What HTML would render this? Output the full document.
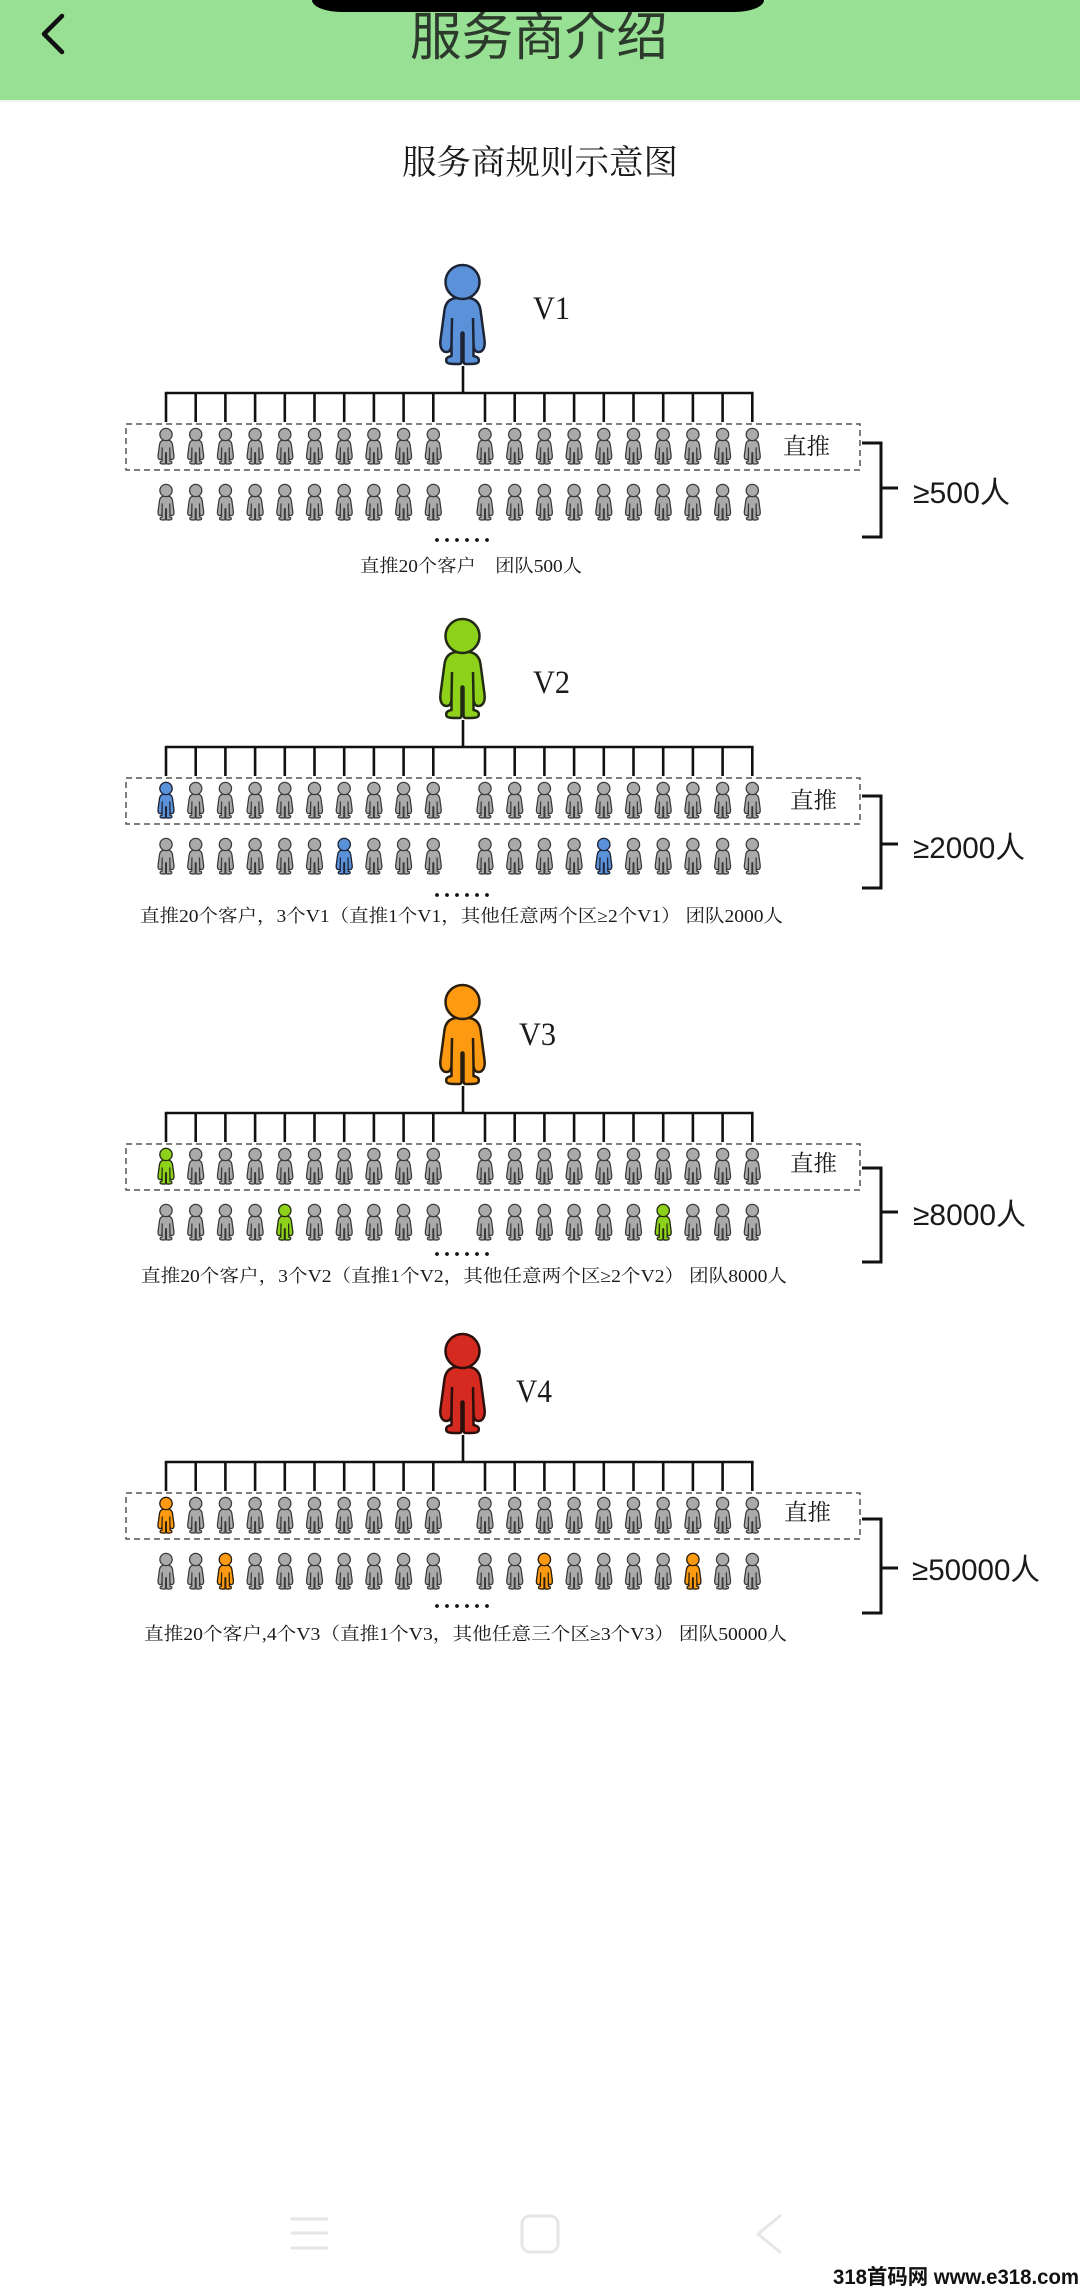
<!DOCTYPE html>
<html>
<head>
<meta charset="utf-8">
<style>
  html,body{margin:0;padding:0;background:#fff;}
  body{width:1080px;height:2292px;overflow:hidden;position:relative;}
  svg{position:absolute;left:0;top:0;}
</style>
</head>
<body>
<svg width="1080" height="2292" viewBox="0 0 1080 2292" xmlns="http://www.w3.org/2000/svg">
  <defs>
    <symbol id="p" viewBox="0 0 50 100" overflow="visible">
      <path d="M25 34 L18 34 C12 35 8 39 7 46 L3 76 C2 84 5 88 9 88 C13 88 14 84 14 80 L14 92 C9 93 8 95 9 98 C10 100 14 100 22 100 C24 100 24 98 24 96 L24 70 C24 68 26 68 26 70 L26 96 C26 98 26 100 28 100 C36 100 40 100 41 98 C42 95 41 93 36 92 L36 80 C36 84 37 88 41 88 C45 88 48 84 47 76 L43 46 C42 39 38 35 32 34 Z" stroke-linejoin="round"/>
      <path d="M14.5 54 L14 80 M35.5 54 L36 80" fill="none"/>
      <circle cx="25" cy="18" r="17"/>
    </symbol>
    <g id="row" fill="#aaaaaa" stroke="#3a3a3a" stroke-width="3.5">
      <use href="#p" x="157" y="0" width="18" height="36"/>
      <use href="#p" x="186.7" y="0" width="18" height="36"/>
      <use href="#p" x="216.4" y="0" width="18" height="36"/>
      <use href="#p" x="246.1" y="0" width="18" height="36"/>
      <use href="#p" x="275.8" y="0" width="18" height="36"/>
      <use href="#p" x="305.5" y="0" width="18" height="36"/>
      <use href="#p" x="335.2" y="0" width="18" height="36"/>
      <use href="#p" x="364.9" y="0" width="18" height="36"/>
      <use href="#p" x="394.6" y="0" width="18" height="36"/>
      <use href="#p" x="424.3" y="0" width="18" height="36"/>
      <use href="#p" x="476" y="0" width="18" height="36"/>
      <use href="#p" x="505.7" y="0" width="18" height="36"/>
      <use href="#p" x="535.4" y="0" width="18" height="36"/>
      <use href="#p" x="565.1" y="0" width="18" height="36"/>
      <use href="#p" x="594.8" y="0" width="18" height="36"/>
      <use href="#p" x="624.5" y="0" width="18" height="36"/>
      <use href="#p" x="654.2" y="0" width="18" height="36"/>
      <use href="#p" x="683.9" y="0" width="18" height="36"/>
      <use href="#p" x="713.6" y="0" width="18" height="36"/>
      <use href="#p" x="743.3" y="0" width="18" height="36"/>
    </g>
    <g id="tree" fill="none" stroke="#111" stroke-width="2.6">
      <path d="M164.8 0 H753.6"/>
      <path d="M463 -27 V0"/>
      <path d="M166 0V29 M195.7 0V29 M225.4 0V29 M255.1 0V29 M284.8 0V29 M314.5 0V29 M344.2 0V29 M373.9 0V29 M403.6 0V29 M433.3 0V29 M485 0V29 M514.7 0V29 M544.4 0V29 M574.1 0V29 M603.8 0V29 M633.5 0V29 M663.2 0V29 M692.9 0V29 M722.6 0V29 M752.3 0V29"/>
    </g>
    <g id="dots" fill="#111">
      <circle cx="437" cy="0" r="1.9"/>
      <circle cx="447" cy="0" r="1.9"/>
      <circle cx="457" cy="0" r="1.9"/>
      <circle cx="467" cy="0" r="1.9"/>
      <circle cx="477" cy="0" r="1.9"/>
      <circle cx="487" cy="0" r="1.9"/>
    </g>
  </defs>

  <!-- Header -->
  <rect x="0" y="0" width="1080" height="100" fill="#98e194"/>
  <rect x="0" y="100" width="1080" height="2" fill="#eef5ee"/>
  <text x="539" y="55" font-size="52" text-anchor="middle" fill="#2c3a2c" font-family="'Noto Sans CJK SC', 'WenQuanYi Zen Hei', sans-serif" textLength="258" lengthAdjust="spacingAndGlyphs">服务商介绍</text>
  <rect x="312" y="-20" width="452" height="32" rx="30" ry="12" fill="#000"/>
  <polyline points="62,16 44,34 62,52" fill="none" stroke="#111" stroke-width="4.5" stroke-linecap="round" stroke-linejoin="round"/>

  <!-- Subtitle -->
  <text x="402" y="174" font-size="34" fill="#1a1a1a" font-family="'Noto Serif CJK SC', serif" textLength="276" lengthAdjust="spacingAndGlyphs">服务商规则示意图</text>

  <!-- ============ V1 ============ -->
  <use href="#p" x="437.5" y="264" width="50" height="100" fill="#5b91d9" stroke="#1c2436" stroke-width="2.5"/>
  <text x="533" y="319" font-size="33" fill="#1a1a1a" font-family="'Liberation Serif', serif" textLength="37" lengthAdjust="spacingAndGlyphs">V1</text>
  <use href="#tree" x="0" y="393"/>
  <rect x="126" y="424" width="734" height="46" fill="none" stroke="#555" stroke-width="1.5" stroke-dasharray="6 4"/>
  <use href="#row" x="0" y="428"/>
  <use href="#row" x="0" y="484"/>
  <text x="783" y="454" font-size="23" fill="#1a1a1a" font-family="'Noto Serif CJK SC', serif" textLength="47" lengthAdjust="spacingAndGlyphs">直推</text>
  <path d="M862 443 H881 V537 H862 M881 488 H898" fill="none" stroke="#111" stroke-width="3"/>
  <text x="913" y="503" font-size="30" fill="#1a1a1a" font-family="'Liberation Sans', 'Noto Sans CJK SC', sans-serif" textLength="97" lengthAdjust="spacingAndGlyphs">≥500人</text>
  <use href="#dots" x="0" y="540"/>
  <text x="360" y="572" font-size="18" fill="#1a1a1a" font-family="'Liberation Serif', 'Noto Serif CJK SC', serif" textLength="222" lengthAdjust="spacingAndGlyphs">直推20个客户　团队500人</text>

  <!-- ============ V2 ============ -->
  <use href="#p" x="437.5" y="618" width="50" height="100" fill="#8ed11b" stroke="#222a14" stroke-width="2.5"/>
  <text x="533" y="693" font-size="33" fill="#1a1a1a" font-family="'Liberation Serif', serif" textLength="37" lengthAdjust="spacingAndGlyphs">V2</text>
  <use href="#tree" x="0" y="747"/>
  <rect x="126" y="778" width="734" height="46" fill="none" stroke="#555" stroke-width="1.5" stroke-dasharray="6 4"/>
  <use href="#row" x="0" y="782"/>
  <use href="#row" x="0" y="838"/>
  <g fill="#5b91d9" stroke="#1c2436" stroke-width="3.5">
    <use href="#p" x="157" y="782" width="18" height="36"/>
    <use href="#p" x="335.2" y="838" width="18" height="36"/>
    <use href="#p" x="594.8" y="838" width="18" height="36"/>
  </g>
  <text x="790" y="808" font-size="23" fill="#1a1a1a" font-family="'Noto Serif CJK SC', serif" textLength="47" lengthAdjust="spacingAndGlyphs">直推</text>
  <path d="M862 796 H881 V888 H862 M881 844 H898" fill="none" stroke="#111" stroke-width="3"/>
  <text x="913" y="858" font-size="30" fill="#1a1a1a" font-family="'Liberation Sans', 'Noto Sans CJK SC', sans-serif" textLength="112" lengthAdjust="spacingAndGlyphs">≥2000人</text>
  <use href="#dots" x="0" y="895"/>
  <text x="140" y="922" font-size="18" fill="#1a1a1a" font-family="'Liberation Serif', 'Noto Serif CJK SC', serif" textLength="643" lengthAdjust="spacingAndGlyphs">直推20个客户，3个V1（直推1个V1，其他任意两个区≥2个V1） 团队2000人</text>

  <!-- ============ V3 ============ -->
  <use href="#p" x="437.5" y="984" width="50" height="100" fill="#fd9a12" stroke="#2a1e0c" stroke-width="2.5"/>
  <text x="519" y="1045" font-size="33" fill="#1a1a1a" font-family="'Liberation Serif', serif" textLength="37" lengthAdjust="spacingAndGlyphs">V3</text>
  <use href="#tree" x="0" y="1113"/>
  <rect x="126" y="1144" width="734" height="46" fill="none" stroke="#555" stroke-width="1.5" stroke-dasharray="6 4"/>
  <use href="#row" x="0" y="1148"/>
  <use href="#row" x="0" y="1204"/>
  <g fill="#8ed11b" stroke="#222a14" stroke-width="3.5">
    <use href="#p" x="157" y="1148" width="18" height="36"/>
    <use href="#p" x="275.8" y="1204" width="18" height="36"/>
    <use href="#p" x="654.2" y="1204" width="18" height="36"/>
  </g>
  <text x="790" y="1171" font-size="23" fill="#1a1a1a" font-family="'Noto Serif CJK SC', serif" textLength="47" lengthAdjust="spacingAndGlyphs">直推</text>
  <path d="M862 1168 H881 V1262 H862 M881 1212 H898" fill="none" stroke="#111" stroke-width="3"/>
  <text x="913" y="1225" font-size="30" fill="#1a1a1a" font-family="'Liberation Sans', 'Noto Sans CJK SC', sans-serif" textLength="113" lengthAdjust="spacingAndGlyphs">≥8000人</text>
  <use href="#dots" x="0" y="1254"/>
  <text x="141" y="1282" font-size="18" fill="#1a1a1a" font-family="'Liberation Serif', 'Noto Serif CJK SC', serif" textLength="646" lengthAdjust="spacingAndGlyphs">直推20个客户，3个V2（直推1个V2，其他任意两个区≥2个V2） 团队8000人</text>

  <!-- ============ V4 ============ -->
  <use href="#p" x="437.5" y="1333" width="50" height="100" fill="#d52a1f" stroke="#2a0f0c" stroke-width="2.5"/>
  <text x="516" y="1402" font-size="33" fill="#1a1a1a" font-family="'Liberation Serif', serif" textLength="36" lengthAdjust="spacingAndGlyphs">V4</text>
  <use href="#tree" x="0" y="1462"/>
  <rect x="126" y="1493" width="734" height="46" fill="none" stroke="#555" stroke-width="1.5" stroke-dasharray="6 4"/>
  <use href="#row" x="0" y="1497"/>
  <use href="#row" x="0" y="1553"/>
  <g fill="#fd9a12" stroke="#2a1e0c" stroke-width="3.5">
    <use href="#p" x="157" y="1497" width="18" height="36"/>
    <use href="#p" x="216.4" y="1553" width="18" height="36"/>
    <use href="#p" x="535.4" y="1553" width="18" height="36"/>
    <use href="#p" x="683.9" y="1553" width="18" height="36"/>
  </g>
  <text x="784" y="1520" font-size="23" fill="#1a1a1a" font-family="'Noto Serif CJK SC', serif" textLength="47" lengthAdjust="spacingAndGlyphs">直推</text>
  <path d="M862 1519 H881 V1613 H862 M881 1568 H898" fill="none" stroke="#111" stroke-width="3"/>
  <text x="912" y="1580" font-size="30" fill="#1a1a1a" font-family="'Liberation Sans', 'Noto Sans CJK SC', sans-serif" textLength="128" lengthAdjust="spacingAndGlyphs">≥50000人</text>
  <use href="#dots" x="0" y="1606"/>
  <text x="144" y="1640" font-size="18" fill="#1a1a1a" font-family="'Liberation Serif', 'Noto Serif CJK SC', serif" textLength="643" lengthAdjust="spacingAndGlyphs">直推20个客户,4个V3（直推1个V3，其他任意三个区≥3个V3） 团队50000人</text>

  <!-- Bottom nav -->
  <g fill="none" stroke="#e6e6e6" stroke-width="3" stroke-linecap="round">
    <path d="M292 2219 H327 M292 2233 H327 M292 2248 H327"/>
    <rect x="522" y="2216" width="36" height="36" rx="8" ry="8"/>
    <polyline points="780,2216 758,2234 780,2252" stroke-linejoin="round"/>
  </g>
  <text x="833" y="2284" font-size="21" font-weight="bold" fill="#111" font-family="'Liberation Sans', 'Noto Sans CJK SC', sans-serif" textLength="246" lengthAdjust="spacingAndGlyphs">318首码网 www.e318.com</text>
</svg>
</body>
</html>
